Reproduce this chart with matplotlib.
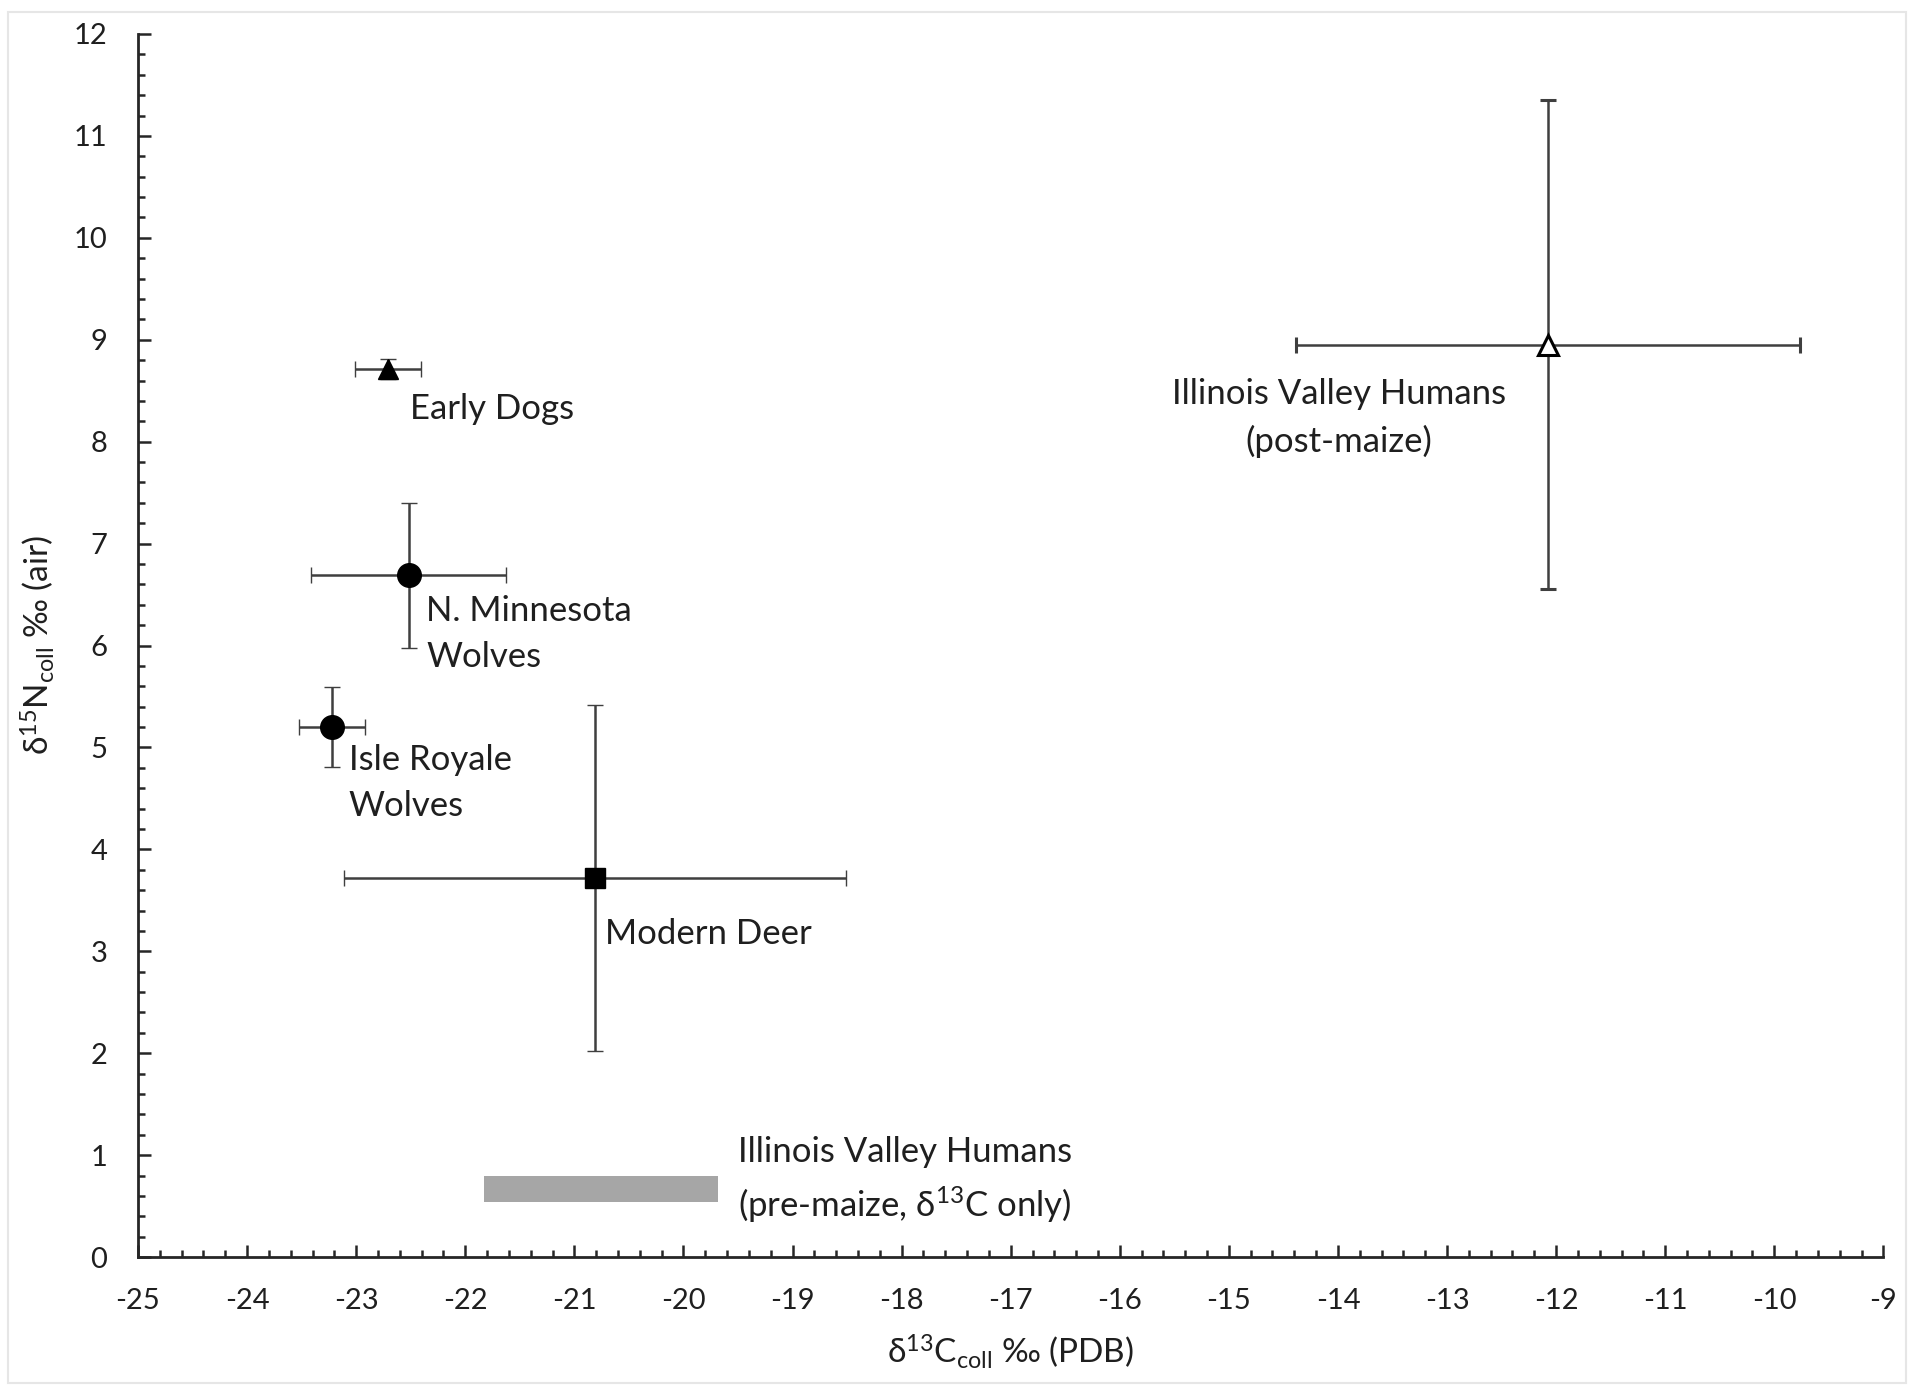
import matplotlib
matplotlib.use("Agg")
import matplotlib.pyplot as plt
from matplotlib.ticker import MultipleLocator
from matplotlib.patches import Rectangle

plt.rcParams['font.family'] = ['Lato', 'DejaVu Sans']
plt.rcParams['mathtext.fontset'] = 'custom'
plt.rcParams['mathtext.rm'] = 'Lato'
plt.rcParams['mathtext.it'] = 'Lato:italic'
plt.rcParams['mathtext.bf'] = 'Lato:bold'
plt.rcParams['axes.unicode_minus'] = False

# ---- data ----
groups = ["Early Dogs", "N. Minnesota Wolves", "Isle Royale Wolves",
          "Modern Deer", "Illinois Valley Humans (post-maize)"]
d13C = [-22.71, -22.52, -23.22, -20.81, -12.07]
d15N = [8.71, 6.69, 5.20, 3.72, 8.95]
d13C_sd = [0.30, 0.89, 0.30, 2.30, 2.31]
d15N_sd = [0.10, 0.71, 0.39, 1.70, 2.40]
markers = ['^', 'o', 'o', 's', '^']
fills = ['black', 'black', 'black', 'black', 'white']
msizes = [14, 17, 17, 15, 14]

labels = ["Early Dogs", "N. Minnesota\nWolves", "Isle Royale\nWolves",
          "Modern Deer", "Illinois Valley Humans\n(post-maize)"]

premaize_c13 = [-21.83, -19.68]
premaize_n15 = 0.67
premaize_label = "Illinois Valley Humans\n(pre-maize, δ$^{13}$C only)"

xticks = list(range(-25, -8))
yticks = list(range(0, 13))

fig = plt.figure(figsize=(19.14, 13.87), dpi=100)
ax = fig.add_axes([0.0721, 0.0937, 0.9119, 0.8818])

# outer faint frame
fig.patches.append(Rectangle((0.004, 0.003), 0.992, 0.988, transform=fig.transFigure,
                             fill=False, edgecolor='#e6e6e6', linewidth=1.5))

err_color = '#3f3f3f'
for x, y, xe, ye, m, fc, ms in zip(d13C, d15N, d13C_sd, d15N_sd, markers, fills, msizes):
    ax.errorbar(x, y, xerr=xe, yerr=ye, fmt=m, color='black', mfc=fc, mec='black',
                mew=2.2 if fc == 'white' else 1, ms=ms, ecolor=err_color,
                elinewidth=1.8, capsize=6, capthick=1.8, zorder=3)

# pre-maize range bar
ax.barh(premaize_n15, premaize_c13[1] - premaize_c13[0], left=premaize_c13[0],
        height=0.26, color='#a6a6a6', zorder=2)

fs = 25
tc = '#1f1f1f'
ls = 1.55
ax.text(-22.51, 8.32, labels[0], fontsize=fs, color=tc, va='center', ha='left')
ax.text(-22.36, 6.11, labels[1], fontsize=fs, color=tc, va='center', ha='left',
        linespacing=ls)
ax.text(-23.07, 4.65, labels[2], fontsize=fs, color=tc, va='center', ha='left',
        linespacing=ls)
ax.text(-20.72, 3.17, labels[3], fontsize=fs, color=tc, va='center', ha='left')
ax.text(-13.99, 8.23, labels[4], fontsize=fs, color=tc, va='center', ha='center',
        linespacing=ls)
ax.text(-19.50, 0.75, premaize_label, fontsize=fs, color=tc, va='center', ha='left',
        linespacing=ls)

ax.set_xlim(-25, -9)
ax.set_ylim(0, 12)
ax.set_xticks(xticks)
ax.set_yticks(yticks)
ax.xaxis.set_minor_locator(MultipleLocator(0.2))
ax.yaxis.set_minor_locator(MultipleLocator(0.2))
ax.tick_params(which='major', direction='in', length=9, width=1.8, color='#262626',
               labelsize=21, labelcolor='#1f1f1f')
ax.tick_params(which='minor', direction='in', length=5, width=1.8, color='#262626')
ax.tick_params(axis='x', which='major', pad=22)
ax.tick_params(axis='y', which='major', pad=22)

for s in ['top', 'right']:
    ax.spines[s].set_visible(False)
for s in ['left', 'bottom']:
    ax.spines[s].set_linewidth(2)
    ax.spines[s].set_color('#262626')

ax.set_xlabel("δ$^{13}$C$_{\\mathrm{coll}}$ ‰ (PDB)", fontsize=24, color='#1f1f1f', labelpad=14)
ax.set_ylabel("δ$^{15}$N$_{\\mathrm{coll}}$ ‰ (air)", fontsize=24, color='#1f1f1f', labelpad=12)

fig.savefig("out.png", dpi=100, facecolor='white')
